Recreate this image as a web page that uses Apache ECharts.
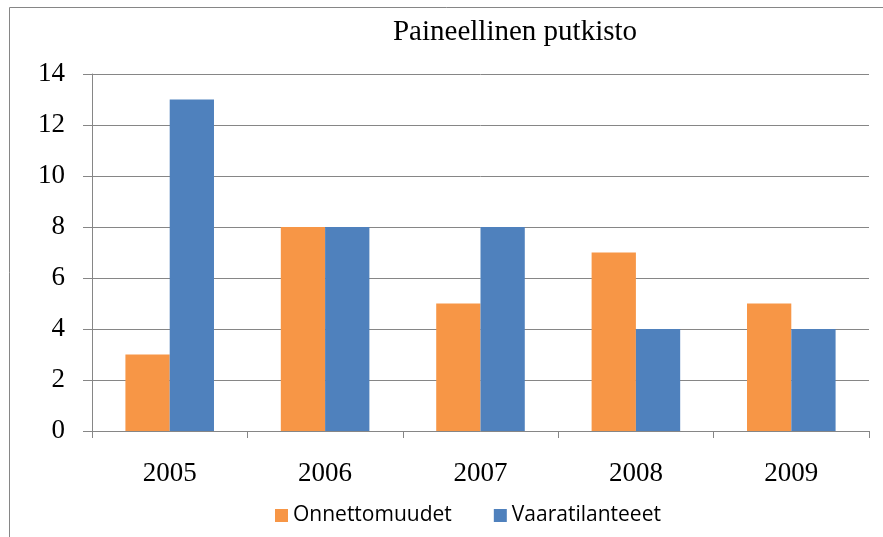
<!DOCTYPE html>
<html>
<head>
<meta charset="utf-8">
<script src="https://cdn.jsdelivr.net/npm/echarts@6/dist/echarts.min.js"></script>
<style>
  html, body { margin: 0; padding: 0; background: #ffffff; }
  #chart { width: 883px; height: 537px; }
</style>
</head>
<body>
<div id="chart"></div>
<script>
  // chart data
  const years = ['2005', '2006', '2007', '2008', '2009'];
  const onnettomuudet = [3, 8, 5, 7, 5];
  const vaaratilanteet = [13, 8, 8, 4, 4];
  const seriesNames = ['Onnettomuudet', 'Vaaratilanteeet'];

  const serif = '"Liberation Serif", "DejaVu Serif", serif';
  const sans = '"Open Sans", "Liberation Sans", sans-serif';

  const chart = echarts.init(document.getElementById('chart'));
  chart.setOption({
    animation: false,
    color: ['#F79646', '#4F81BD'],
    title: {
      text: 'Paineellinen putkisto',
      left: 510,
      textAlign: 'center',
      top: 13,
      textStyle: {
        fontFamily: serif,
        fontSize: 29,
        fontWeight: 'normal',
        color: '#000000'
      }
    },
    graphic: [{
      type: 'rect',
      silent: true,
      shape: {x: 9.5, y: 7.5, width: 900, height: 600},
      style: {fill: null, stroke: '#868686', lineWidth: 1}
    }],
    legend: {
      data: seriesNames,
      left: 270,
      top: 500,
      itemWidth: 13,
      itemHeight: 13,
      itemGap: 42,
      icon: 'rect',
      textStyle: {
        fontFamily: sans,
        fontSize: 21,
        color: '#000000'
      }
    },
    grid: {
      left: 92,
      right: 14,
      top: 74,
      bottom: 106
    },
    xAxis: {
      type: 'category',
      data: years,
      axisLine: {lineStyle: {color: '#868686', width: 1}},
      axisTick: {show: true, length: 7, lineStyle: {color: '#868686'}},
      axisLabel: {
        fontFamily: serif,
        fontSize: 27,
        color: '#000000',
        margin: 29
      },
      splitLine: {show: false}
    },
    yAxis: {
      type: 'value',
      min: 0,
      max: 14,
      interval: 2,
      axisLine: {show: true, lineStyle: {color: '#868686', width: 1}},
      axisTick: {show: true, length: 9, lineStyle: {color: '#868686'}},
      axisLabel: {
        fontFamily: serif,
        fontSize: 27,
        color: '#000000',
        margin: 27
      },
      splitLine: {lineStyle: {color: '#868686', width: 1}}
    },
    series: [{
      name: seriesNames[0],
      type: 'bar',
      barGap: '0%',
      barCategoryGap: '43%',
      data: onnettomuudet
    }, {
      name: seriesNames[1],
      type: 'bar',
      barGap: '0%',
      barCategoryGap: '43%',
      data: vaaratilanteet
    }]
  });
</script>
</body>
</html>
